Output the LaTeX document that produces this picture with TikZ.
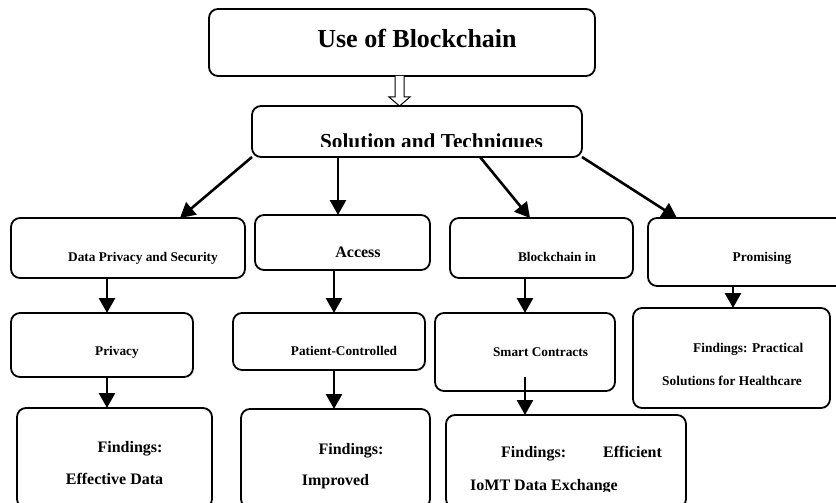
\documentclass[tikz,border=0pt]{standalone}
\usepackage{fontspec}
\setmainfont{Liberation Serif}
\usetikzlibrary{arrows.meta}
\tikzset{
  box/.style={draw, rounded corners=9pt, line width=1.8pt, inner sep=0pt, outer sep=0pt},
  txt/.style={font=\bfseries, inner sep=0pt, anchor=base},
  txtl/.style={font=\bfseries, inner sep=0pt, anchor=base west},
  arr/.style={line width=2.6pt, -{Triangle[length=15pt,width=16pt]}},
}
\newcommand\mkbox[5]{\node[box, minimum width={(#4)-(#2)}, minimum height={(#5)-(#3)}] (#1) at ({((#2)+(#4))/2},{((#3)+(#5))/2}) {};}
\begin{document}
\begin{tikzpicture}[x=1pt,y=-1pt]
\useasboundingbox (0,0) rectangle (836,503);
\clip (0,0) rectangle (836,503);
% boxes
\mkbox{top}{209}{9}{595}{76}
\mkbox{sol}{252}{106}{582}{157}
\mkbox{dps}{11}{218}{245}{278}
\mkbox{acc}{255}{215}{430}{270}
\mkbox{bci}{450}{218}{633}{278}
\mkbox{pro}{648}{218}{852}{286}
\mkbox{priv}{11}{313}{193}{377}
\mkbox{pat}{233}{313}{425}{370}
\mkbox{smc}{435}{313}{615}{391}
\mkbox{fpr}{633}{308}{830}{408}
\mkbox{fed}{17}{408}{212}{508}
\mkbox{fim}{241}{409}{430}{508}
\mkbox{fef}{446}{415}{686}{508}
% texts
\node[txt, font=\bfseries\fontsize{26}{30}\selectfont] (t1) at (417,48) {Use of Blockchain};
\begin{scope}
\clip (252,106) rectangle (582,146.5);
\node[txt, font=\bfseries\fontsize{21.3}{25}\selectfont] (t2) at (431.5,148) {Solution and Techniques};
\end{scope}
\node[txt, font=\bfseries\fontsize{13.3}{16}\selectfont] (t3) at (143,261) {Data Privacy and Security};
\node[txt, font=\bfseries\fontsize{16}{19}\selectfont] (t4) at (358,257) {Access};
\node[txt, font=\bfseries\fontsize{13.3}{16}\selectfont] (t5) at (557,261) {Blockchain in};
\node[txt, font=\bfseries\fontsize{13.4}{16}\selectfont] (t6) at (762,261.5) {Promising};
\node[txt, font=\bfseries\fontsize{13.3}{16}\selectfont] (t7) at (117,355.5) {Privacy};
\node[txt, font=\bfseries\fontsize{13.3}{16}\selectfont] (t8) at (344,355.5) {Patient-Controlled};
\node[txt, font=\bfseries\fontsize{13.3}{16}\selectfont] (t9) at (540.5,356.5) {Smart Contracts};
\node[txtl, font=\bfseries\fontsize{13.4}{16}\selectfont] (t10) at (693,352) {Findings: Practical};
\node[txtl, font=\bfseries\fontsize{13.4}{16}\selectfont] (t11) at (662,385) {Solutions for Healthcare};
\node[txt, font=\bfseries\fontsize{16}{19}\selectfont] (t12) at (130,452) {Findings:};
\node[txt, font=\bfseries\fontsize{16}{19}\selectfont] (t13) at (114.5,484) {Effective Data};
\node[txt, font=\bfseries\fontsize{16}{19}\selectfont] (t14) at (351,454) {Findings:};
\node[txt, font=\bfseries\fontsize{16}{19}\selectfont] (t15) at (335.5,485.5) {Improved};
\node[txtl, font=\bfseries\fontsize{16}{19}\selectfont] (t16) at (501,457) {Findings:};
\node[txtl, font=\bfseries\fontsize{16}{19}\selectfont] (t17) at (603,457) {Efficient};
\begin{scope}
\clip (446,415) rectangle (686,491);
\node[txtl, font=\bfseries\fontsize{16}{19}\selectfont] (t18) at (470,490.6) {IoMT Data Exchange};
\end{scope}
% hollow arrow
\draw[line width=1pt, fill=white] (top.south -| 395,0) -- (395,97) -- (389,97) -- (sol.north -| 399.5,0) -- (410,97) -- (404,97) -- (top.south -| 404,0);
% arrows
\draw[arr] (sol.south west) -- (dps.north -| 180,0);
\draw[arr] (sol.south -| 338,0) -- (acc.north -| 338,0);
\draw[arr] (sol.south -| 480,0) -- (bci.north -| 530,0);
\draw[arr] (sol.south east) -- (pro.north -| 677,0);
\draw[arr] (dps.south -| 107,0) -- (priv.north -| 107,0);
\draw[arr] (priv.south -| 107,0) -- (fed.north -| 107,0);
\draw[arr] (acc.south -| 334,0) -- (pat.north -| 334,0);
\draw[arr] (pat.south -| 334,0) -- (fim.north -| 334,0);
\draw[arr] (bci.south -| 525,0) -- (smc.north -| 525,0);
\draw[arr] (525,377) -- (fef.north -| 525,0);
\draw[arr] (pro.south -| 733,0) -- (fpr.north -| 733,0);
\end{tikzpicture}
\end{document}
